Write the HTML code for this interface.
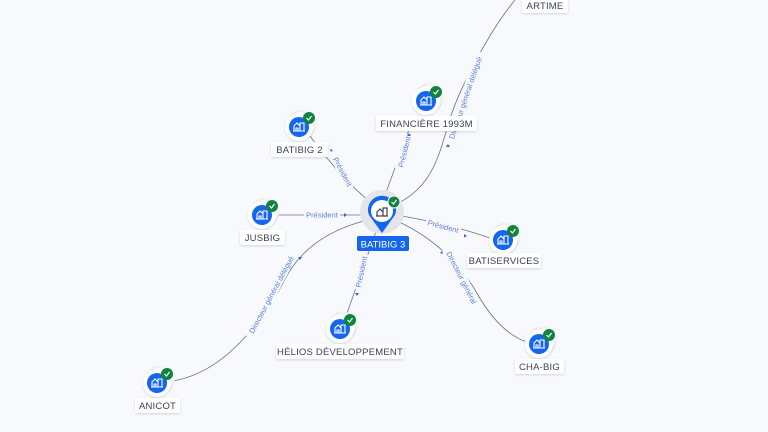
<!DOCTYPE html>
<html><head><meta charset="utf-8"><style>
html,body{margin:0;padding:0;background:#f8f9fc;}
svg{display:block;font-family:"Liberation Sans",sans-serif;}
.lab{font-size:9.5px;fill:#3a4256;text-anchor:middle;letter-spacing:0.2px}
.el{font-size:7.5px;fill:#5a7fe0;text-anchor:middle}
.ln{fill:none;stroke:#6b7083;stroke-width:0.8}
</style></head><body>
<svg width="768" height="432" viewBox="0 0 768 432">
<defs>
<filter id="sh" x="-30%" y="-30%" width="160%" height="160%"><feDropShadow dx="0" dy="1" stdDeviation="1" flood-color="#000" flood-opacity="0.15"/></filter>
<g id="nd">
<circle cx="3" cy="-3" r="14" fill="#fff" stroke="#e6e8ee" stroke-width="0.8"/>
<circle cx="1.5" cy="-1.5" r="14" fill="#fff" stroke="#e6e8ee" stroke-width="0.8"/>
<circle cx="0" cy="0" r="14" fill="#fff" filter="url(#sh)"/>
<circle cx="0" cy="0" r="10" fill="#1466ee"/>
<path d="M-5,4 V-1 L-2,-4 L1,-1 V4 M-3,4 V1 H-1 V4 M1,4 V-4 H5 V4 M-6,4 H6" fill="none" stroke="#fff" stroke-width="1.1"/>
<circle cx="10" cy="-9" r="6" fill="#11833f"/>
<path d="M7.5,-9 L9.5,-7 L12.5,-11" fill="none" stroke="#fff" stroke-width="1.2"/>
</g>
</defs>

<!-- edges -->
<path class="ln" d="M392,206 C430,190 438,160 448,125 S490,30 515,0"/>
<path class="ln" d="M384,198 Q398,160 414,116"/>
<path class="ln" d="M374,205 Q342,180 310,136"/>
<path class="ln" d="M276,215 L368,215"/>
<path class="ln" d="M396,215 Q450,224 490,238"/>
<path class="ln" d="M395,220 Q450,245 478,295 Q500,333 527,342"/>
<path class="ln" d="M378,226 L346,316"/>
<path class="ln" d="M368,220 Q305,235 282,285 Q232,372 172,381"/>

<!-- edge labels -->
<g transform="translate(466,98) rotate(-71)"><rect x="-48" y="-6" width="96" height="10" fill="#f8f9fc"/><text class="el" y="2">Directeur général délégué</text></g>
<g transform="translate(405,152) rotate(-76)"><rect x="-18" y="-6" width="36" height="10" fill="#f8f9fc"/><text class="el" y="2">Président</text></g>
<g transform="translate(342,172) rotate(62)"><rect x="-18" y="-6" width="36" height="10" fill="#f8f9fc"/><text class="el" y="2">Président</text></g>
<g transform="translate(322,215)"><rect x="-18" y="-6" width="36" height="10" fill="#f8f9fc"/><text class="el" y="2.5">Président</text></g>
<g transform="translate(443,227) rotate(15)"><rect x="-18" y="-6" width="36" height="10" fill="#f8f9fc"/><text class="el" y="2">Président</text></g>
<g transform="translate(461,278) rotate(63)"><rect x="-34" y="-6" width="68" height="10" fill="#f8f9fc"/><text class="el" y="2">Directeur général</text></g>
<g transform="translate(362,272) rotate(-78)"><rect x="-18" y="-6" width="36" height="10" fill="#f8f9fc"/><text class="el" y="2">Président</text></g>
<g transform="translate(272,295) rotate(-62)"><rect x="-48" y="-6" width="96" height="10" fill="#f8f9fc"/><text class="el" y="2">Directeur général délégué</text></g>
<!-- arrowheads -->
<g fill="#2f66e0">
<path d="M344,213 l3,2 l-3,2z"/>
<path d="M409,133 l2,3 l-4,0z"/>
<path d="M331,152 l-1,-3 l3,1z"/>
<path d="M448,144 l2,3 l-4,0z"/>
<path d="M464,234 l3,2 l-3,1.5z"/>
<path d="M442,251 l1,3 l-3,-1z"/>
<path d="M357,296 l-2,-3 l4,0z"/>
<path d="M300,260 l-2,-3 l4,0z"/>
</g>

<!-- center node -->
<circle cx="382" cy="212" r="22" fill="#e3e5ea"/>
<path d="M369,215 A14,14 0 1 1 395,215 L382,233 Z" fill="#1466ee"/>
<circle cx="382" cy="211" r="11" fill="#fff"/>
<path d="M377,216 V212 L380,209 L383,212 V216 M383,216 V208 H387 V216 M376,216 H388" fill="none" stroke="#3a4256" stroke-width="1.2"/>
<circle cx="394" cy="202" r="6" fill="#11833f" stroke="#fff" stroke-width="1"/>
<path d="M391.5,202 L393.5,204 L396.5,200" fill="none" stroke="#fff" stroke-width="1.2"/>
<rect x="357" y="236" width="52" height="15" rx="2" fill="#1466ee"/>
<text x="383" y="247.5" style="font-size:9.5px;fill:#fff;text-anchor:middle">BATIBIG 3</text>

<!-- nodes -->
<use href="#nd" x="426" y="101"/>
<use href="#nd" x="299" y="127"/>
<use href="#nd" x="262" y="215"/>
<use href="#nd" x="503" y="240"/>
<use href="#nd" x="340" y="329"/>
<use href="#nd" x="539" y="344"/>
<use href="#nd" x="157" y="383"/>

<!-- labels -->
<g filter="url(#sh)" fill="#fff">
<rect x="376" y="116" width="101" height="15" rx="2"/>
<rect x="271" y="142" width="57" height="15" rx="2"/>
<rect x="240" y="230" width="45" height="15" rx="2"/>
<rect x="467" y="253" width="74" height="15" rx="2"/>
<rect x="276" y="344" width="128" height="15" rx="2"/>
<rect x="515" y="359" width="49" height="15" rx="2"/>
<rect x="135" y="398" width="45" height="15" rx="2"/>
<rect x="522" y="-2" width="46" height="15" rx="2"/>
</g>
<text class="lab" x="426.5" y="127">FINANCIÈRE 1993M</text>
<text class="lab" x="299.5" y="153">BATIBIG 2</text>
<text class="lab" x="262.5" y="241">JUSBIG</text>
<text class="lab" x="504" y="264">BATISERVICES</text>
<text class="lab" x="340" y="355">HÉLIOS DÉVELOPPEMENT</text>
<text class="lab" x="539.5" y="370">CHA-BIG</text>
<text class="lab" x="157.5" y="409">ANICOT</text>
<text class="lab" x="545" y="9">ARTIME</text>
</svg>
</body></html>
